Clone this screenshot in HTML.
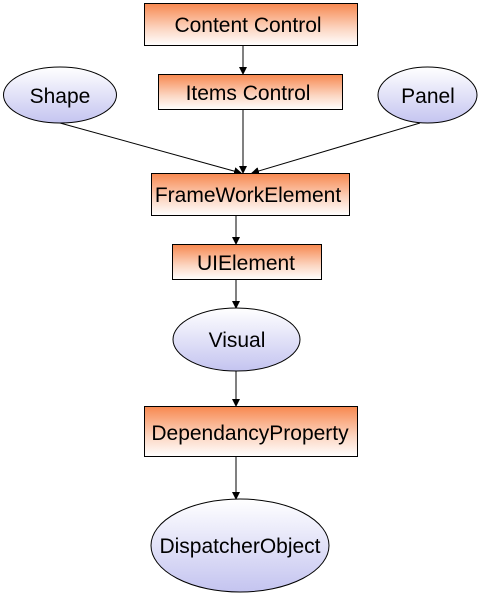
<!DOCTYPE html>
<html><head><style>body{margin:0;background:#fff}svg{display:block}</style></head><body>
<svg width="482" height="596" xmlns="http://www.w3.org/2000/svg" font-family="Liberation Sans, sans-serif" font-size="21">
<defs>
<linearGradient id="o" x1="0" y1="0" x2="0" y2="1"><stop offset="0" stop-color="#f7884f"/><stop offset="0.6" stop-color="#fcd6c2"/><stop offset="1" stop-color="#fff"/></linearGradient>
<linearGradient id="b" x1="0" y1="0" x2="0" y2="1"><stop offset="0" stop-color="#fff"/><stop offset="1" stop-color="#c4c4f0"/></linearGradient>
<marker id="a" markerWidth="8" markerHeight="8" refX="7" refY="4" orient="auto" markerUnits="userSpaceOnUse"><path d="M0,0 L8,4 L0,8 Z" fill="#000"/></marker>
</defs>
<g stroke="#000" stroke-width="1" fill="none">
<line x1="243" y1="45" x2="243" y2="74" marker-end="url(#a)"/>
<line x1="243" y1="109" x2="243" y2="173" marker-end="url(#a)"/>
<line x1="60" y1="123" x2="241" y2="173" marker-end="url(#a)"/>
<line x1="420" y1="123" x2="252" y2="173" marker-end="url(#a)"/>
<line x1="236" y1="215" x2="236" y2="244" marker-end="url(#a)"/>
<line x1="236" y1="279" x2="236" y2="308" marker-end="url(#a)"/>
<line x1="236" y1="371" x2="236" y2="406" marker-end="url(#a)"/>
<line x1="236" y1="456" x2="236" y2="499" marker-end="url(#a)"/>
</g>
<g stroke="#000" stroke-width="1">
<rect x="144.5" y="3.5" width="213" height="42" fill="url(#o)"/>
<rect x="158.5" y="74.5" width="184" height="35" fill="url(#o)"/>
<ellipse cx="60" cy="95" rx="56.5" ry="28" fill="url(#b)"/>
<ellipse cx="427.5" cy="95" rx="49.5" ry="28" fill="url(#b)"/>
<rect x="151.5" y="173.5" width="198" height="42" fill="url(#o)"/>
<rect x="172.5" y="244.5" width="149" height="35" fill="url(#o)"/>
<ellipse cx="236.5" cy="339.5" rx="63.5" ry="31.5" fill="url(#b)"/>
<rect x="144.5" y="406.5" width="213" height="50" fill="url(#o)"/>
<ellipse cx="240" cy="545.5" rx="89" ry="46.5" fill="url(#b)"/>
</g>
<g fill="#000" text-anchor="middle">
<text x="248" y="32">Content Control</text>
<text x="248" y="100">Items Control</text>
<text x="60" y="103">Shape</text>
<text x="428" y="103">Panel</text>
<text x="248" y="202">FrameWorkElement</text>
<text x="246" y="270">UIElement</text>
<text x="237" y="347">Visual</text>
<text x="250" y="440">DependancyProperty</text>
<text x="240" y="553">DispatcherObject</text>
</g>
</svg>
</body></html>
